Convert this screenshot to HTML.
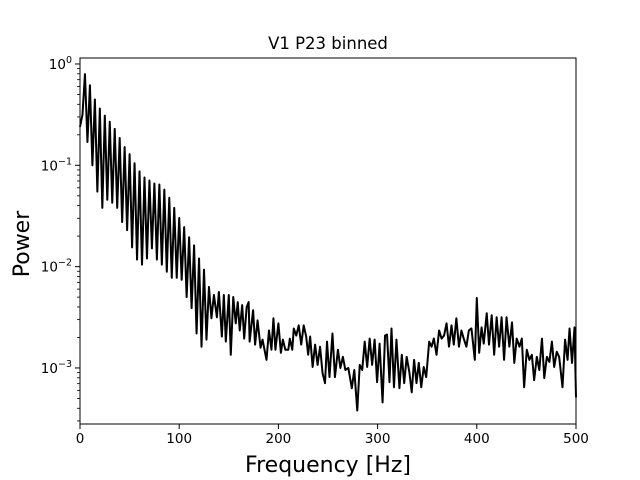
<!DOCTYPE html>
<html><head><meta charset="utf-8"><style>
html,body{margin:0;padding:0;background:#fff;}
svg{display:block;font-family:"DejaVu Sans","Liberation Sans",sans-serif;}
</style></head><body>
<svg id="chart" width="640" height="480" viewBox="0 0 640 480" xmlns="http://www.w3.org/2000/svg">
<rect width="640" height="480" fill="#fff"/>
<text x="328" y="49" font-size="16.5" text-anchor="middle">V1 P23 binned</text>
<text x="328" y="472" font-size="22" text-anchor="middle">Frequency [Hz]</text>
<text x="0" y="0" font-size="22" text-anchor="middle" transform="translate(29,244) rotate(-90)">Power</text>
<g id="plot"></g>
</svg>
<script>
const freqs = [0,2.5,5,7.5,10,12.5,15,17.5,20,22.5,25,27.5,30,32.5,35,37.5,40,42.5,45,47.5,50,52.5,55,57.5,60,62.5,65,67.5,70,72.5,75,77.5,80,82.5,85,87.5,90,92.5,95,97.5,100,102.5,105,107.5,110,112.5,115,117.5,120,122.5,125,127.5,130,132.5,135,138,
140,143,145,147,150,152,154.5,157,159,161,163.5,165.5,168,170,171,174.5,176.5,179,182,184,186,188,190.5,193,195,197,200,202.5,204.5,207,210,211.5,214,215.5,218,220.5,223,225.5,228,230,232,234.5,237,239.5,242,244.5,247,249,251.5,254.5,257,260,262.5,265,267.5,270.5,274,276.5,279.5,282,284.5,287,289.5,292,294.5,297,299.5,302,305,307.5,
309.5,312,314,316.5,319,322,324.4,326.8,329.3,332,334.4,336.8,339.2,341.5,344,346.5,349,352,354.4,356.7,359.4,362,364.5,367,369.5,372,374.5,376.8,379.4,382,384.5,386.8,389.5,392,394.6,398,400,402.4,404.8,407,410,412.3,415,417.5,420,422.5,425,427.5,430,432.8,435.5,437.8,440.2,443,445.4,447.7,450.4,453,455.5,457.8,460.5,463,465.7,468,470.6,473.2,475.7,478,480.6,483,486.4,489,491.5,493.5,496,498.5,500];
const log10Power = [-0.62,-0.5,-0.10,-0.77,-0.21,-1.00,-0.35,-1.26,-0.44,-1.42,-0.51,-1.34,-0.57,-1.37,-0.64,-1.42,-0.73,-1.56,-0.82,-1.64,-0.89,-1.81,-0.98,-1.93,-1.06,-1.98,-1.12,-1.92,-1.15,-1.82,-1.18,-1.93,-1.19,-1.98,-1.24,-2.05,-1.32,-2.11,-1.42,-2.11,-1.52,-2.13,-1.61,-2.30,-1.71,-2.41,-1.79,-2.66,-1.92,-2.79,-2.03,-2.72,-2.20,-2.51,-2.28,-2.50,
-2.25,-2.69,-2.28,-2.74,-2.28,-2.87,-2.30,-2.56,-2.35,-2.63,-2.38,-2.71,-2.40,-2.35,-2.74,-2.43,-2.77,-2.53,-2.80,-2.72,-2.82,-2.92,-2.63,-2.82,-2.51,-2.82,-2.56,-2.85,-2.72,-2.82,-2.82,-2.71,-2.82,-2.61,-2.68,-2.58,-2.77,-2.58,-2.69,-2.87,-2.69,-2.99,-2.77,-2.97,-2.79,-3.05,-3.15,-2.74,-3.09,-2.66,-3.09,-2.82,-3.00,-2.89,-3.02,-3.00,-3.20,-3.02,-3.42,-2.97,-3.02,-2.74,-2.99,-2.71,-2.97,-2.72,-3.14,-2.76,-3.34,-2.68,
-2.67,-3.14,-2.61,-3.19,-2.72,-3.20,-2.87,-3.15,-2.89,-3.04,-3.24,-2.92,-3.15,-2.95,-3.19,-2.99,-3.09,-2.74,-2.79,-2.71,-2.87,-2.63,-2.71,-2.68,-2.56,-2.79,-2.58,-2.77,-2.51,-2.79,-2.63,-2.71,-2.79,-2.63,-2.61,-2.92,-2.31,-2.85,-2.60,-2.76,-2.46,-2.77,-2.48,-2.87,-2.50,-2.79,-2.50,-2.92,-2.50,-2.79,-2.55,-2.95,-2.71,-2.79,-2.71,-3.19,-2.82,-2.92,-2.87,-3.12,-2.89,-3.02,-2.71,-3.10,-2.89,-2.94,-2.74,-2.99,-2.84,-2.89,-3.19,-2.72,-2.92,-2.61,-2.95,-2.60,-3.29];
const xTicks = [0,100,200,300,400,500];
const yTickExps = [-3,-2,-1,0];
const yTickSups = ["\u22123","\u22122","\u22121","0"];

const L=80,R=576,T=58,B=424;
const xMin=0,xMax=500,lyMin=-3.553,lyMax=0.059;
const xs=f=>L+(f-xMin)/(xMax-xMin)*(R-L);
const ys=l=>B-(l-lyMin)/(lyMax-lyMin)*(B-T);
const NS="http://www.w3.org/2000/svg";
const g=document.getElementById('plot');
function mk(tag,attrs,parent){const e=document.createElementNS(NS,tag);for(const k in attrs)e.setAttribute(k,attrs[k]);(parent||g).appendChild(e);return e;}

let d='';
for(let i=0;i<freqs.length;i++){d+=(i?'L':'M')+xs(freqs[i]).toFixed(2)+','+ys(log10Power[i]).toFixed(2);}
const line=mk('path',{d:d,fill:'none',stroke:'#000','stroke-width':2,'stroke-linejoin':'round'});



const frame=mk('rect',{x:L,y:T,width:R-L,height:B-T,fill:'none',stroke:'#000','stroke-width':1});



xTicks.forEach(v=>{
  const x=xs(v);
  const t=mk('line',{x1:x,x2:x,y1:B,y2:B+5,stroke:'#000','stroke-width':1});
  
  
  const lb=mk('text',{x:x,y:B+19,'font-size':13.5,'text-anchor':'middle'});
  lb.textContent=v;
  
  
});
yTickExps.forEach((e,i)=>{
  const y=ys(e);
  const t=mk('line',{x1:L-5,x2:L,y1:y,y2:y,stroke:'#000','stroke-width':1});
  
  
  const lb=mk('text',{x:L-8,y:y+5,'font-size':13.5,'text-anchor':'end'});
  
  
  const a=mk('tspan',{},lb);a.textContent='10';
  const b=mk('tspan',{'font-size':9.5,dy:-6},lb);b.textContent=yTickSups[i];
});
for(let e=-4;e<=0;e++){for(let m=2;m<=9;m++){
  const l=e+Math.log10(m);
  if(l<lyMin||l>lyMax)continue;
  const y=ys(l);
  const t=mk('line',{x1:L-3,x2:L,y1:y,y2:y,stroke:'#000','stroke-width':0.8});
  
  
}}
</script>
</body></html>
